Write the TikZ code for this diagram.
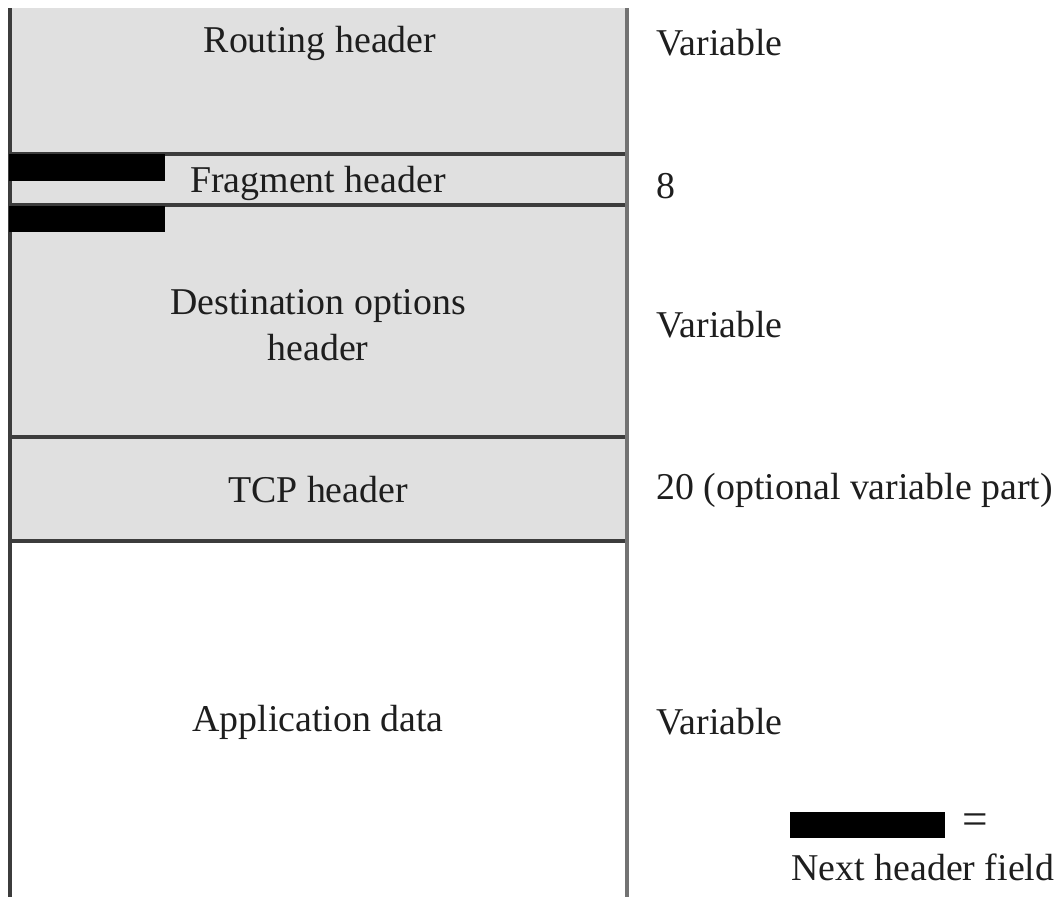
\documentclass[tikz,border=0pt]{standalone}
\usepackage{fontspec}
\setmainfont{Liberation Serif}
\definecolor{hdrgray}{RGB}{224,224,224}
\definecolor{rulegray}{RGB}{60,60,60}
\definecolor{sidegray}{RGB}{115,115,115}
\definecolor{txtgray}{RGB}{30,30,30}
\tikzset{
hdrbox/.style={fill=hdrgray, draw=none},
sepline/.style={draw=rulegray, line width=2.5pt},
nhfield/.style={fill=black, draw=none},
lbl/.style={inner sep=0.75pt, text=txtgray, font=\fontsize{28.4}{34}\selectfont},
sizelbl/.style={lbl, anchor=west}}
\tikzset{every picture/.style={line width=0.75pt}}

\begin{document}
\begin{tikzpicture}[x=0.75pt,y=0.75pt,yscale=-1,xscale=1]
\useasboundingbox (0,0) rectangle (1059,897);

%Shape: header areas
\path [hdrbox] (10,8) rectangle (627,154);
\path [hdrbox] (10,154) rectangle (627,205);
\path [hdrbox] (10,205) rectangle (627,437);
\path [hdrbox] (10,437) rectangle (627,541);

%Straight Lines: separators
\draw [sepline] (10,154) -- (627,154);
\draw [sepline] (10,205) -- (627,205);
\draw [sepline] (10,437) -- (627,437);
\draw [sepline] (10,541) -- (627,541);

%Straight Lines: sides
\draw [sepline] (10,8) -- (10,897);
\draw [draw=sidegray, line width=2.6pt] (627,8) -- (627,897);

%Shape: next header fields
\path [nhfield] (9,154) rectangle (165,181);
\path [nhfield] (9,206) rectangle (165,232);
\path [nhfield] (790,812) rectangle (945,838);

% Text Node
\node (routing) at (320,43) [lbl] {Routing header};
% Text Node
\node (fragment) at (318,183) [lbl] {Fragment header};
% Text Node
\node (destopts) at (318,325) [lbl, align=center] {Destination options\\header};
% Text Node
\node (tcp) at (318,490) [lbl] {TCP header};
% Text Node
\node (appdata) at (318,722) [lbl] {Application data};

% Text Node
\node (routingsize) at (655,43) [sizelbl] {Variable};
% Text Node
\node (fragmentsize) at (655,186) [sizelbl] {8};
% Text Node
\node (destoptssize) at (655,325) [sizelbl] {Variable};
% Text Node
\node (tcpsize) at (655,490) [sizelbl] {20 (optional variable part)};
% Text Node
\node (appdatasize) at (655,722) [sizelbl] {Variable};

% Text Node
\node (equals) at (975,824) [lbl, font=\fontsize{34}{34}\selectfont] {=};
% Text Node
\node (legend) at (790,867) [sizelbl] {Next header field};

\end{tikzpicture}
\end{document}
